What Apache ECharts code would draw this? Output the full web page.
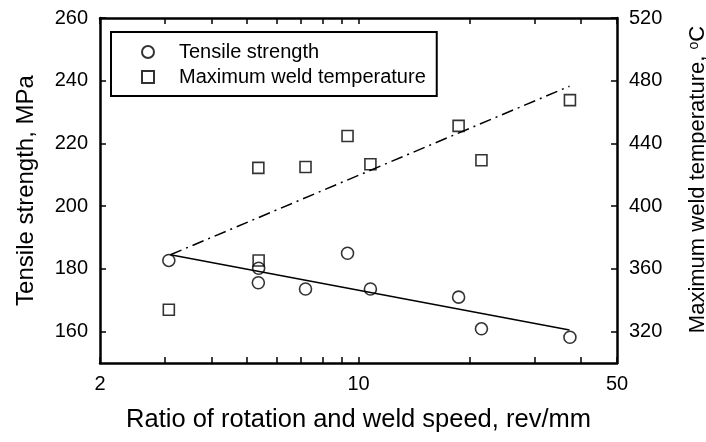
<!DOCTYPE html>
<html>
<head>
<meta charset="utf-8">
<script src="https://cdn.jsdelivr.net/npm/echarts@6/dist/echarts.min.js"></script>
<style>
  html, body { margin: 0; padding: 0; background: #fff; }
  #chart { width: 706px; height: 442px; }
</style>
</head>
<body>
<div id="chart"></div>
<script>
// values
const ratio = [3.07, 5.37, 5.36, 7.19, 9.34, 10.77, 18.65, 21.5, 37.3];
const tensile = [182.7, 180.2, 175.6, 173.6, 185.0, 173.6, 171.0, 160.9, 158.2];
const weldTemp = [334, 365.4, 424.4, 425, 444.8, 426.7, 451.2, 429.3, 467.6];
const fitX = [3.1, 37.2];
const fitTensile = [184.5, 160.5];
const fitTemp = [369, 476.5];
const xLabels = [2, 10, 50];
const xTicks = [2, 3, 4, 5, 6, 7, 8, 9, 10, 20, 30, 40, 50];
const leftTicks = [160, 180, 200, 220, 240, 260];
const rightTicks = [320, 360, 400, 440, 480, 520];

const pairs = (xs, ys) => xs.map((x, i) => [x, ys[i]]);
const font = 'Liberation Sans, Arial, sans-serif';
const axisLine = { show: true, onZero: false, lineStyle: { color: '#000', width: 2.5 } };
const tick = vals => ({ show: true, inside: true, length: 6, lineStyle: { color: '#000', width: 1.5 }, customValues: vals });

const chart = echarts.init(document.getElementById('chart'));
chart.setOption({
  animation: false,
  textStyle: { fontFamily: font, color: '#000' },
  grid: { left: 100, right: 89, top: 18, bottom: 79, outerBoundsMode: 'none', containLabel: false },
  legend: {
    left: 111, top: 32, orient: 'vertical',
    data: ['Tensile strength', 'Maximum weld temperature'],
    borderColor: '#000', borderWidth: 2, borderRadius: 0,
    padding: [10, 11, 9, 30],
    itemWidth: 12, itemHeight: 12, itemGap: 5,
    textStyle: { fontFamily: font, fontSize: 20, color: '#000', lineHeight: 20, padding: [0, 0, 0, 20] }
  },
  xAxis: [{
    type: 'log', min: 2, max: 50, logBase: 10, position: 'bottom',
    name: 'Ratio of rotation and weld speed, rev/mm', nameLocation: 'middle', nameGap: 44,
    nameTextStyle: { fontSize: 25.5, color: '#000', fontFamily: font },
    axisLine: axisLine,
    axisTick: tick(xTicks),
    axisLabel: { fontSize: 20, color: '#000', margin: 11, customValues: xLabels, formatter: v => String(v) },
    splitLine: { show: false }
  }, {
    type: 'log', min: 2, max: 50, logBase: 10, position: 'top',
    axisLine: axisLine,
    axisTick: tick(xTicks),
    axisLabel: { show: false }, splitLine: { show: false }
  }],
  yAxis: [{
    type: 'value', min: 150, max: 260, position: 'left',
    name: 'Tensile strength, MPa', nameLocation: 'middle', nameGap: 62,
    nameTextStyle: { fontSize: 24, color: '#000', fontFamily: font },
    axisLine: axisLine,
    axisTick: tick(leftTicks),
    axisLabel: { fontSize: 20, color: '#000', margin: 12, customValues: leftTicks },
    splitLine: { show: false }
  }, {
    type: 'value', min: 300, max: 520, position: 'right',
    name: 'Maximum weld temperature, {s|o}C', nameLocation: 'middle', nameGap: 70,
    nameTextStyle: {
      fontSize: 22, color: '#000', fontFamily: font, padding: [0, 0, 0, 22],
      rich: { s: { fontSize: 14, color: '#000', fontFamily: font, verticalAlign: 'top' } }
    },
    axisLine: axisLine,
    axisTick: tick(rightTicks),
    axisLabel: { fontSize: 20, color: '#000', margin: 12, customValues: rightTicks },
    splitLine: { show: false }
  }],
  series: [
    {
      name: 'Tensile strength fit', type: 'line', yAxisIndex: 0, data: pairs(fitX, fitTensile),
      symbol: 'none', lineStyle: { color: '#000', width: 1.5 }, silent: true
    },
    {
      name: 'Temperature fit', type: 'line', yAxisIndex: 1, data: pairs(fitX, fitTemp),
      symbol: 'none', lineStyle: { color: '#000', width: 1.5, type: [12, 5, 2, 5] }, silent: true
    },
    {
      name: 'Tensile strength', type: 'scatter', yAxisIndex: 0, data: pairs(ratio, tensile),
      symbol: 'circle', symbolSize: 12,
      itemStyle: { color: 'rgba(0,0,0,0)', borderColor: '#000', borderWidth: 1.6 }
    },
    {
      name: 'Maximum weld temperature', type: 'scatter', yAxisIndex: 1, data: pairs(ratio, weldTemp),
      symbol: 'rect', symbolSize: 11,
      itemStyle: { color: 'rgba(0,0,0,0)', borderColor: '#000', borderWidth: 1.6 }
    }
  ]
});
</script>
</body>
</html>
